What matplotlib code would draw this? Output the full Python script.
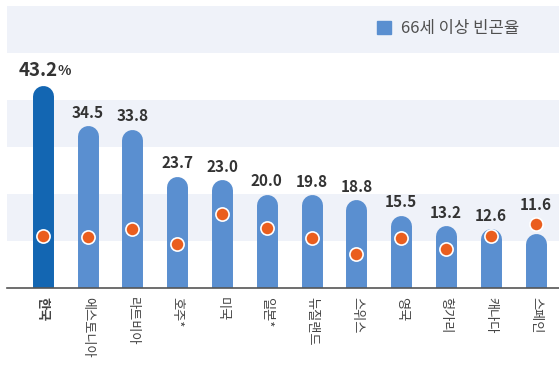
import matplotlib
matplotlib.use("Agg")
import matplotlib.pyplot as plt
import matplotlib.transforms as mtransforms
from matplotlib.patches import Patch

plt.rcParams['font.family'] = ['Noto Sans CJK KR', 'DejaVu Sans']

# 데이터
countries = ['한국', '에스토니아', '라트비아', '호주*', '미국', '일본*',
             '뉴질랜드', '스위스', '영국', '헝가리', '캐나다', '스페인']
poverty_66 = [43.2, 34.5, 33.8, 23.7, 23.0, 20.0, 19.8, 18.8, 15.5, 13.2, 12.6, 11.6]
dot_values = [11.1, 10.9, 12.5, 9.3, 15.7, 12.8, 10.7, 7.2, 10.6, 8.2, 11.1, 13.6]
legend_label = '66세 이상 빈곤율'

dark_blue = '#1366b2'
light_blue = '#5a8fd0'
orange = '#ea5e1e'
band = '#eff2f9'

fig = plt.figure(figsize=(5.59, 3.68), dpi=100)
ax = fig.add_axes([7 / 559, 80 / 368, 552 / 559, 288 / 368])
ax.set_xlim(-0.8, 11.52)
ax.set_ylim(0, 61.3)

# 배경 띠
for lo in (10, 30, 50):
    ax.axhspan(lo, lo + 10, color=band, zorder=0, lw=0)

# 막대 (둥근 상단)
r = 2.23
for i, v in enumerate(poverty_66):
    c = dark_blue if i == 0 else light_blue
    ax.plot([i, i], [-5, v - r], color=c, lw=15.1, solid_capstyle='round', zorder=2)

# 점
ax.plot(range(len(dot_values)), dot_values, 'o', color=orange, ms=9.5,
        mec='white', mew=1.2, zorder=3, ls='none')

# 값 라벨
shift = mtransforms.ScaledTranslation(15 / 100, 0, fig.dpi_scale_trans)
for i, v in enumerate(poverty_66):
    if i == 0:
        ax.text(i, v + 3.2, '43.2', ha='right', va='center', fontsize=13.5,
                fontweight='bold', color='#333333', zorder=4,
                transform=ax.transData + shift)
        ax.text(i, v + 3.0, '%', ha='left', va='center', fontsize=10,
                fontweight='bold', color='#333333', zorder=4,
                transform=ax.transData + shift)
    else:
        y = max(v, dot_values[i] + 1.3) + 2.8
        ax.text(i, y, f'{v:.1f}', ha='center', va='center', fontsize=11,
                fontweight='bold', color='#333333', zorder=4)

ax.set_xticks(range(len(countries)))
ax.set_xticklabels(countries, rotation=-90, fontsize=9.5, color='#444444')
ax.get_xticklabels()[0].set_fontweight('bold')
ax.tick_params(axis='x', length=0, pad=6.5)
ax.set_yticks([])

for s in ('left', 'right', 'top'):
    ax.spines[s].set_visible(False)
ax.spines['bottom'].set_color('#555555')
ax.spines['bottom'].set_linewidth(1.2)
ax.spines['bottom'].set_zorder(5)

ax.legend(handles=[Patch(color=light_blue, label=legend_label)], loc='center left',
          bbox_to_anchor=(355 / 552, 1 - 29 / 288), frameon=False, fontsize=12,
          handlelength=0.85, handleheight=0.85, handletextpad=0.6, labelcolor='#505050')

fig.savefig('out.png', dpi=100)
